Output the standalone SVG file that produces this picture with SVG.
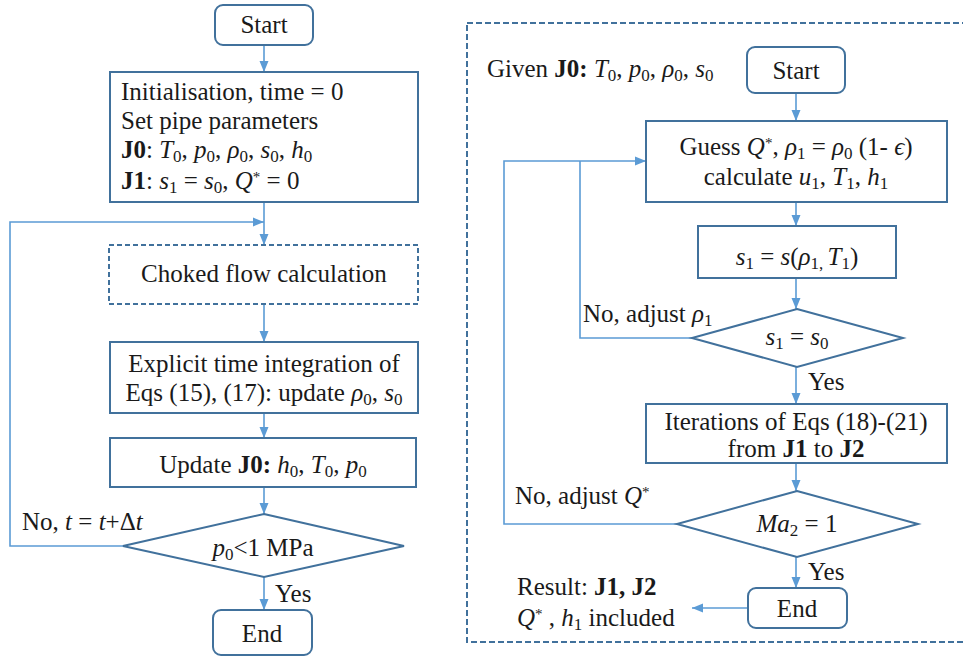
<svg xmlns="http://www.w3.org/2000/svg" width="963" height="657" viewBox="0 0 963 657">
<style>
text{font-family:"Liberation Serif","Times New Roman",serif;font-size:25px;fill:#1a1a1a}
.c{text-anchor:middle}
.i{font-style:italic}
.b{font-weight:bold}
.s{font-size:17px;font-style:normal}
.u{font-size:15px;font-style:normal}
.box{fill:#fff;stroke:#41719c;stroke-width:2}
.dash{fill:#fff;stroke:#41719c;stroke-width:2;stroke-dasharray:5 3}
.panel{fill:none;stroke:#41719c;stroke-width:2;stroke-dasharray:6 3}
.ln{fill:none;stroke:#5b9bd5;stroke-width:1.6}
.ar{marker-end:url(#ah)}
</style>
<defs>
<marker id="ah" markerUnits="userSpaceOnUse" markerWidth="12" markerHeight="12" viewBox="0 0 12 12" refX="11" refY="6" orient="auto">
<path d="M0,1.5 L11,6 L0,10.5 Z" fill="#5b9bd5"/>
</marker>
</defs>
<rect class="panel" x="467" y="23" width="510" height="619"/>
<g id="connectors">
<path class="ln ar" d="M264,45 V72"/>
<path class="ln ar" d="M264,202 V245"/>
<path class="ln ar" d="M264,304 V342"/>
<path class="ln ar" d="M264,413 V438"/>
<path class="ln ar" d="M264,487 V514"/>
<path class="ln ar" d="M264,577 V610"/>
<path class="ln ar" d="M123,546 H10 V222 H264"/>
<path class="ln ar" d="M796,93 V121"/>
<path class="ln ar" d="M796,202 V226"/>
<path class="ln ar" d="M796,278 V309"/>
<path class="ln ar" d="M796,367 V404"/>
<path class="ln ar" d="M796,463 V491"/>
<path class="ln ar" d="M796,557 V588"/>
<path class="ln ar" d="M748,608 H692"/>
<path class="ln" d="M692,338 H580 V161"/>
<path class="ln ar" d="M677,524 H504 V161 H646"/>
</g>
<g id="start-left">
<rect class="box" x="215" y="5" width="98" height="40" rx="8"/>
<text class="c" x="264" y="33">Start</text>
</g>
<g id="init">
<rect class="box" x="110" y="72" width="308" height="130"/>
<text x="121" y="100">Initialisation, time = 0</text>
<text x="121" y="129">Set pipe parameters</text>
<text x="121" y="158"><tspan class="b">J0</tspan>: <tspan class="i">T</tspan><tspan class="s" dy="4">0</tspan><tspan dy="-4">, </tspan><tspan class="i">p</tspan><tspan class="s" dy="4">0</tspan><tspan dy="-4">, </tspan><tspan class="i">ρ</tspan><tspan class="s" dy="4">0</tspan><tspan dy="-4">, </tspan><tspan class="i">s</tspan><tspan class="s" dy="4">0</tspan><tspan dy="-4">, </tspan><tspan class="i">h</tspan><tspan class="s" dy="4">0</tspan></text>
<text x="121" y="189"><tspan class="b">J1</tspan>: <tspan class="i">s</tspan><tspan class="s" dy="4">1</tspan><tspan dy="-4"> = </tspan><tspan class="i">s</tspan><tspan class="s" dy="4">0</tspan><tspan dy="-4">, </tspan><tspan class="i">Q</tspan><tspan class="u" dy="-7">*</tspan><tspan dy="7"> = 0</tspan></text>
</g>
<g id="choked">
<rect class="dash" x="109" y="245" width="309" height="59"/>
<text class="c" x="264" y="282">Choked flow calculation</text>
</g>
<g id="explicit">
<rect class="box" x="110" y="342" width="308" height="71"/>
<text class="c" x="264" y="372">Explicit time integration of</text>
<text class="c" x="264" y="401">Eqs (15), (17): update <tspan class="i">ρ</tspan><tspan class="s" dy="4">0</tspan><tspan dy="-4">, </tspan><tspan class="i">s</tspan><tspan class="s" dy="4">0</tspan></text>
</g>
<g id="update">
<rect class="box" x="110" y="438" width="306" height="49"/>
<text class="c" x="263" y="473">Update <tspan class="b">J0:</tspan> <tspan class="i">h</tspan><tspan class="s" dy="4">0</tspan><tspan dy="-4">, </tspan><tspan class="i">T</tspan><tspan class="s" dy="4">0</tspan><tspan dy="-4">, </tspan><tspan class="i">p</tspan><tspan class="s" dy="4">0</tspan></text>
</g>
<g id="decision-left">
<polygon class="box" points="264,514 404,546 264,577 123,546"/>
<text class="c" x="263" y="556"><tspan class="i">p</tspan><tspan class="s" dy="4">0</tspan><tspan dy="-4">&lt;1 MPa</tspan></text>
</g>
<text x="22" y="530">No, <tspan class="i">t</tspan> = <tspan class="i">t</tspan>+Δ<tspan class="i">t</tspan></text>
<text x="275" y="602">Yes</text>
<g id="end-left">
<rect class="box" x="213" y="610" width="99" height="45" rx="8"/>
<text class="c" x="262" y="642">End</text>
</g>
<text x="487" y="77">Given <tspan class="b">J0:</tspan> <tspan class="i">T</tspan><tspan class="s" dy="4">0</tspan><tspan dy="-4">, </tspan><tspan class="i">p</tspan><tspan class="s" dy="4">0</tspan><tspan dy="-4">, </tspan><tspan class="i">ρ</tspan><tspan class="s" dy="4">0</tspan><tspan dy="-4">, </tspan><tspan class="i">s</tspan><tspan class="s" dy="4">0</tspan></text>
<g id="start-right">
<rect class="box" x="747" y="47" width="98" height="46" rx="8"/>
<text class="c" x="796" y="79">Start</text>
</g>
<g id="guess">
<rect class="box" x="646" y="121" width="301" height="81"/>
<text class="c" x="796" y="155">Guess <tspan class="i">Q</tspan><tspan class="u" dy="-7">*</tspan><tspan dy="7">, </tspan><tspan class="i">ρ</tspan><tspan class="s" dy="4">1</tspan><tspan dy="-4"> = </tspan><tspan class="i">ρ</tspan><tspan class="s" dy="4">0</tspan><tspan dy="-4"> (1- </tspan><tspan class="i">ϵ</tspan>)</text>
<text class="c" x="796" y="185">calculate <tspan class="i">u</tspan><tspan class="s" dy="4">1</tspan><tspan dy="-4">, </tspan><tspan class="i">T</tspan><tspan class="s" dy="4">1</tspan><tspan dy="-4">, </tspan><tspan class="i">h</tspan><tspan class="s" dy="4">1</tspan></text>
</g>
<g id="entropy">
<rect class="box" x="698" y="226" width="198" height="52"/>
<text class="c" x="797" y="265"><tspan class="i">s</tspan><tspan class="s" dy="4">1</tspan><tspan dy="-4"> = </tspan><tspan class="i">s</tspan>(<tspan class="i">ρ</tspan><tspan class="s" dy="4">1, </tspan><tspan class="i" dy="-4">T</tspan><tspan class="s" dy="4">1</tspan><tspan dy="-4">)</tspan></text>
</g>
<g id="decision-s">
<polygon class="box" points="797,309 903,338 797,367 692,338"/>
<text class="c" x="797" y="345"><tspan class="i">s</tspan><tspan class="s" dy="4">1</tspan><tspan dy="-4"> = </tspan><tspan class="i">s</tspan><tspan class="s" dy="4">0</tspan></text>
</g>
<text x="583" y="322">No, adjust <tspan class="i">ρ</tspan><tspan class="s" dy="4">1</tspan></text>
<text x="808" y="390">Yes</text>
<g id="iterations">
<rect class="box" x="646" y="404" width="301" height="59"/>
<text class="c" x="796" y="430">Iterations of Eqs (18)-(21)</text>
<text class="c" x="796" y="457">from <tspan class="b">J1</tspan> to <tspan class="b">J2</tspan></text>
</g>
<g id="decision-ma">
<polygon class="box" points="797,491 918,524 797,557 677,524"/>
<text class="c" x="797" y="532"><tspan class="i">Ma</tspan><tspan class="s" dy="4">2</tspan><tspan dy="-4"> = 1</tspan></text>
</g>
<text x="515" y="504">No, adjust <tspan class="i">Q</tspan><tspan class="u" dy="-7">*</tspan></text>
<text x="808" y="580">Yes</text>
<g id="end-right">
<rect class="box" x="748" y="588" width="99" height="40" rx="8"/>
<text class="c" x="797" y="617">End</text>
</g>
<text x="517" y="595">Result: <tspan class="b">J1, J2</tspan></text>
<text x="517" y="626"><tspan class="i">Q</tspan><tspan class="u" dy="-7">*</tspan><tspan dy="7"> , </tspan><tspan class="i">h</tspan><tspan class="s" dy="4">1</tspan><tspan dy="-4"> included</tspan></text>
</svg>
